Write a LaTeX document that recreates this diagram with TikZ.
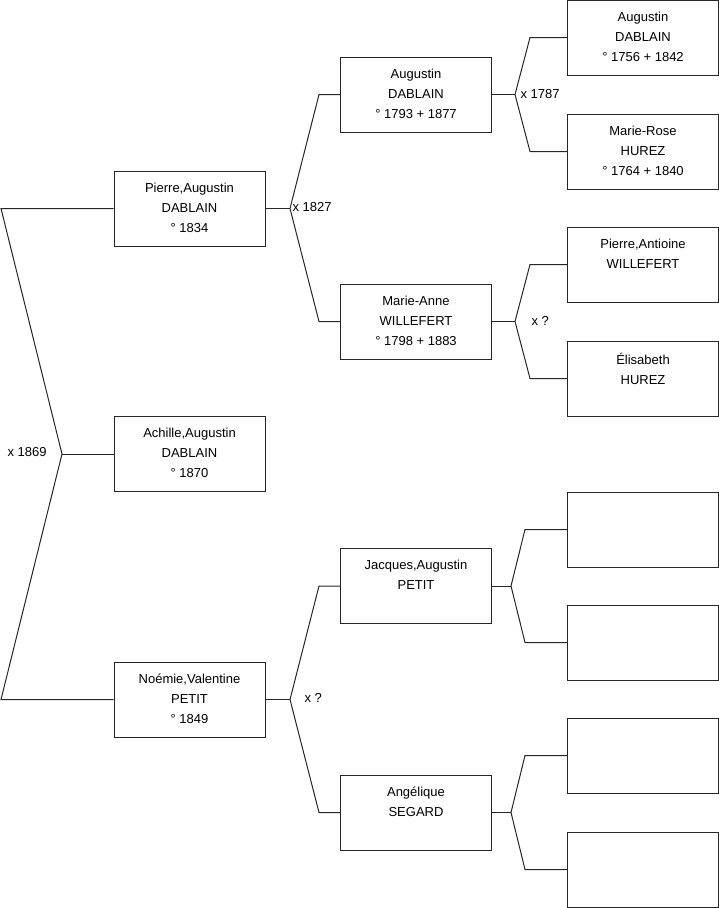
\documentclass[tikz,border=0pt]{standalone}
\usepackage{fontspec}
\setmainfont{Liberation Sans}
\begin{document}
\begin{tikzpicture}[x=1pt,y=-1pt,
  line width=1pt,
  person/.style={draw=black!85, line width=1pt, minimum width=151pt, minimum height=75pt, inner sep=0pt},
  ptext/.style={anchor=north, inner sep=0pt, align=center, font=\fontsize{13}{20}\selectfont, execute at begin node=\strut},
  conn/.style={draw=black!85, line width=1pt},
  mlabel/.style={anchor=west, inner sep=0pt, font=\fontsize{13}{16}\selectfont}]
\useasboundingbox (0,0) rectangle (719,908);
% column 1
\node[person] (pierre) at (189.5,208.5) {};
\node[person] (achille) at (189.5,454) {};
\node[person] (noemie) at (189.5,699.5) {};
% column 2
\node[person] (augustin) at (416,94.5) {};
\node[person] (marieanne) at (416,321.5) {};
\node[person] (jacques) at (416,586) {};
\node[person] (angelique) at (416,812.5) {};
% column 3
\node[person] (augustinA) at (643,37.5) {};
\node[person] (marierose) at (643,151.5) {};
\node[person] (pierreantoine) at (643,264.5) {};
\node[person] (elisabeth) at (643,378.5) {};
\node[person] (e1) at (643,529.5) {};
\node[person] (e2) at (643,642.5) {};
\node[person] (e3) at (643,755.5) {};
\node[person] (e4) at (643,869.5) {};
% texts
\node[ptext] (tpierre) at ([yshift=-12pt]pierre.north) {Pierre,Augustin\\DABLAIN\\° 1834};
\node[ptext] (tachille) at ([yshift=-12pt]achille.north) {Achille,Augustin\\DABLAIN\\° 1870};
\node[ptext] (tnoemie) at ([yshift=-12pt]noemie.north) {Noémie,Valentine\\PETIT\\° 1849};
\node[ptext] (taugustin) at ([yshift=-12pt]augustin.north) {Augustin\\DABLAIN\\° 1793 + 1877};
\node[ptext] (tmarieanne) at ([yshift=-12pt]marieanne.north) {Marie-Anne\\WILLEFERT\\° 1798 + 1883};
\node[ptext] (tjacques) at ([yshift=-12pt]jacques.north) {Jacques,Augustin\\PETIT};
\node[ptext] (tangelique) at ([yshift=-12pt]angelique.north) {Angélique\\SEGARD};
\node[ptext] (taugustinA) at ([yshift=-12pt]augustinA.north) {Augustin\\DABLAIN\\° 1756 + 1842};
\node[ptext] (tmarierose) at ([yshift=-12pt]marierose.north) {Marie-Rose\\HUREZ\\° 1764 + 1840};
\node[ptext] (tpierreantoine) at ([yshift=-12pt]pierreantoine.north) {Pierre,Antioine\\WILLEFERT};
\node[ptext] (telisabeth) at ([yshift=-12pt]elisabeth.north) {Élisabeth\\HUREZ};
% fork coordinates
\coordinate (r1) at (1,208.5);
\coordinate (r2) at (1,699.5);
\coordinate (j0) at (62,454);
\coordinate (j1) at (290,208.5);
\coordinate (j1a) at (319,94.5);
\coordinate (j1b) at (319,321.5);
\coordinate (j2) at (290,699.5);
\coordinate (j2a) at (319,586);
\coordinate (j2b) at (319,812.5);
\coordinate (j3) at (515,94.5);
\coordinate (j3a) at (530,37.5);
\coordinate (j3b) at (530,151.5);
\coordinate (j4) at (515,321.5);
\coordinate (j4a) at (530,264.5);
\coordinate (j4b) at (530,378.5);
\coordinate (j5) at (511,586);
\coordinate (j5a) at (525,529.5);
\coordinate (j5b) at (525,642.5);
\coordinate (j6) at (511,812.5);
\coordinate (j6a) at (525,755.5);
\coordinate (j6b) at (525,869.5);
% connectors
\draw[conn] (pierre.west) -- (r1) -- (j0) -- (r2) -- (noemie.west);
\draw[conn] (j0) -- (achille.west);
\draw[conn] (pierre.east) -- (j1);
\draw[conn] (augustin.west) -- (j1a) -- (j1) -- (j1b) -- (marieanne.west);
\draw[conn] (noemie.east) -- (j2);
\draw[conn] (jacques.west) -- (j2a) -- (j2) -- (j2b) -- (angelique.west);
\draw[conn] (augustin.east) -- (j3);
\draw[conn] (augustinA.west) -- (j3a) -- (j3) -- (j3b) -- (marierose.west);
\draw[conn] (marieanne.east) -- (j4);
\draw[conn] (pierreantoine.west) -- (j4a) -- (j4) -- (j4b) -- (elisabeth.west);
\draw[conn] (jacques.east) -- (j5);
\draw[conn] (e1.west) -- (j5a) -- (j5) -- (j5b) -- (e2.west);
\draw[conn] (angelique.east) -- (j6);
\draw[conn] (e3.west) -- (j6a) -- (j6) -- (j6b) -- (e4.west);
% marriage labels
\node[mlabel] (m0) at (7,452) {x 1869};
\node[mlabel] (m1) at (292,207.5) {x 1827};
\node[mlabel] (m2) at (304,698) {x ?};
\node[mlabel] (m3) at (520,94) {x 1787};
\node[mlabel] (m4) at (531,320.5) {x ?};
\end{tikzpicture}
\end{document}
